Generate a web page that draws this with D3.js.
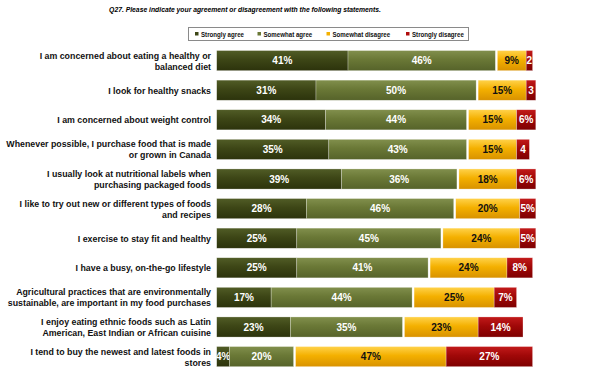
<!doctype html>
<html>
  <head>
    <script src="https://d3js.org/d3.v7.min.js"></script>
    <style>
      body { margin: 0; background: #fff; }
      svg { font-family: "Liberation Sans", Arial, sans-serif; font-weight: bold; }
    </style>
  </head>
  <body>
    <svg id="chart" width="600" height="376"></svg>
    <script>
      // statements (line breaks as in the original)
      var statements = [
        "I am concerned about eating a healthy or\nbalanced diet",
        "I look for healthy snacks",
        "I am concerned about weight control",
        "Whenever possible, I purchase food that is made\nor grown in Canada",
        "I usually look at nutritional labels when\npurchasing packaged foods",
        "I like to try out new or different types of foods\nand recipes",
        "I exercise to stay fit and healthy",
        "I have a busy, on-the-go lifestyle",
        "Agricultural practices that are environmentally\nsustainable, are important in my food purchases",
        "I enjoy eating ethnic foods such as Latin\nAmerican, East Indian or African cuisine",
        "I tend to buy the newest and latest foods in\nstores"
      ];
      var series = ["Strongly agree", "Somewhat agree", "Somewhat disagree", "Strongly disagree"];
      var stronglyAgree    = [41, 31, 34, 35, 39, 28, 25, 25, 17, 23, 4];
      var somewhatAgree    = [46, 50, 44, 43, 36, 46, 45, 41, 44, 35, 20];
      var somewhatDisagree = [9, 15, 15, 15, 18, 20, 24, 24, 25, 23, 47];
      var stronglyDisagree = [2, 3, 6, 4, 6, 5, 5, 8, 7, 14, 27];

      var svg = d3.select("#chart");

      // gradients for the slightly shaded bars
      var grads = [
        ["#515c26", "#3d4616", "#2c330c"],
        ["#818f4c", "#6a7836", "#56632a"],
        ["#ffd24a", "#f4b000", "#d89200"],
        ["#c21a1a", "#a00808", "#7e0000"]
      ];
      var defs = svg.append("defs");
      grads.forEach(function(g, i) {
        var lg = defs.append("linearGradient").attr("id", "g" + i)
          .attr("x1", 0).attr("y1", 0).attr("x2", 0).attr("y2", 1);
        lg.append("stop").attr("offset", "0%").attr("stop-color", g[0]);
        lg.append("stop").attr("offset", "45%").attr("stop-color", g[1]);
        lg.append("stop").attr("offset", "100%").attr("stop-color", g[2]);
      });
      var legendColor = ["#3d4616", "#6a7836", "#f4b000", "#b00c0c"];

      // build stacked rows
      var rows = statements.map(function(s, i) {
        var vals = [stronglyAgree[i], somewhatAgree[i], somewhatDisagree[i], stronglyDisagree[i]];
        var acc = 0;
        var segs = vals.map(function(v, k) {
          var seg = {k: k, v: v, x0: acc, x1: acc + v};
          acc += v;
          return seg;
        });
        return {label: s, segs: segs};
      });

      var x = d3.scaleLinear().domain([0, 100]).range([216.7, 537]);
      var gap = 2; // white gap between agree and disagree groups
      var y = d3.scaleBand()
        .domain(statements)
        .range([45.8, 371.4])
        .paddingInner(0.32)
        .paddingOuter(0.16);

      // title
      svg.append("text")
        .attr("transform", "translate(245,12) scale(0.85,1)")
        .attr("text-anchor", "middle")
        .style("font-size", "8px")
        .style("font-style", "italic")
        .text("Q27. Please indicate your agreement or disagreement with the following statements.");

      // legend
      var legend = svg.append("g");
      legend.append("rect")
        .attr("x", 188.5).attr("y", 27.5).attr("width", 280).attr("height", 13)
        .attr("fill", "#fff").attr("stroke", "#8a8a8a").attr("stroke-width", 1);
      var legX = [195, 257.5, 326.5, 406];
      series.forEach(function(s, i) {
        legend.append("rect")
          .attr("x", legX[i]).attr("y", 32).attr("width", 3.5).attr("height", 3.5)
          .attr("fill", legendColor[i]);
        legend.append("text")
          .attr("transform", "translate(" + (legX[i] + 6) + ",36.8) scale(0.82,1)")
          .style("font-size", "7.5px")
          .attr("fill", "#111")
          .text(s);
      });

      // bars
      var row = svg.selectAll(".row").data(rows).enter().append("g")
        .attr("class", "row")
        .attr("transform", function(d) { return "translate(0," + y(d.label) + ")"; });

      var bw = y.bandwidth();
      var seg = row.selectAll("g.seg").data(function(d) { return d.segs; }).enter().append("g").attr("class", "seg");
      seg.append("rect")
        .attr("x", function(d) { return x(d.x0) + (d.k >= 2 ? gap : 0); })
        .attr("y", 0)
        .attr("width", function(d) { return x(d.x1) - x(d.x0); })
        .attr("height", bw)
        .attr("fill", function(d) { return "url(#g" + d.k + ")"; })
        .attr("stroke", "rgba(255,255,255,0.45)")
        .attr("stroke-width", 0.6);
      seg.append("text")
        .attr("x", function(d) { return (x(d.x0) + x(d.x1)) / 2 + (d.k >= 2 ? gap : 0); })
        .attr("y", bw / 2 + 3.6)
        .attr("text-anchor", "middle")
        .style("font-size", "10px")
        .attr("fill", function(d) { return d.k === 2 ? "#111" : "#fff"; })
        .text(function(d) { return (d.k === 3 && d.v < 5) ? d.v : d.v + "%"; });

      // category labels
      row.each(function(d) {
        var lines = d.label.split("\n");
        var g = d3.select(this);
        lines.forEach(function(line, j) {
          var dy = bw / 2 + 3.4 + (j - (lines.length - 1) / 2) * 11;
          g.append("text")
            .attr("transform", "translate(211," + dy + ") scale(0.9,1)")
            .attr("text-anchor", "end")
            .style("font-size", "9.8px")
            .attr("fill", "#111")
            .text(line);
        });
      });
    </script>
  </body>
</html>
